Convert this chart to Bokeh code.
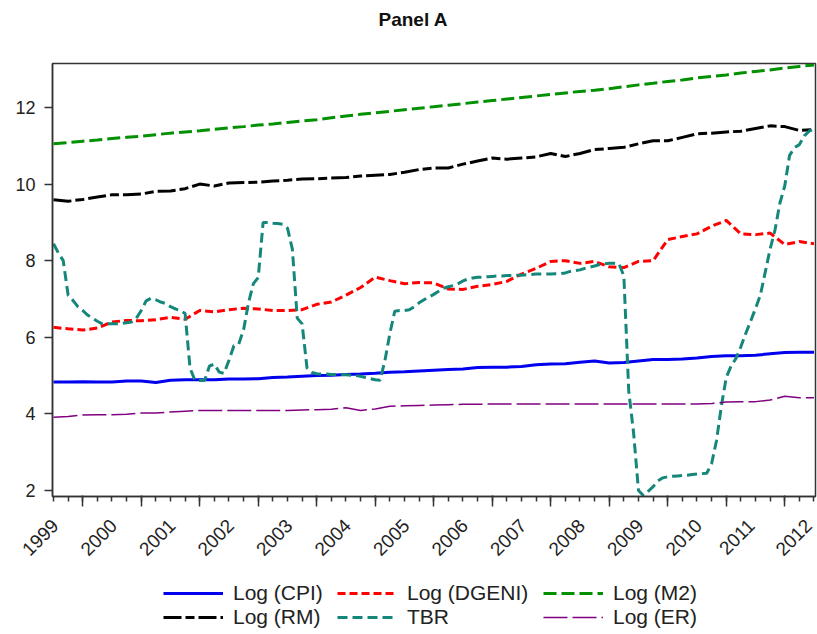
import numpy as np
from bokeh.plotting import figure
from bokeh.layouts import column
from bokeh.models import Range1d, FixedTicker, LinearAxis, Legend, LegendItem, Label
from bokeh.embed import file_html
from bokeh.resources import INLINE

# ---------------- data ----------------
title_text = "Panel A"
years = list(range(1999, 2013))
year_labels = [str(y) for y in years]

# quarterly observation dates (1999Q1 .. 2012Q1) and monthly dates (1999M1 .. 2012M1)
quarter_dates = [1999 + q / 4 for q in range(53)]
month_dates = [1999 + m / 12 for m in range(157)]

log_cpi = [4.83, 4.83, 4.84, 4.83, 4.83, 4.86, 4.86, 4.82, 4.88, 4.89, 4.89, 4.89,
           4.91, 4.91, 4.92, 4.95, 4.96, 4.98, 5.00, 5.01, 5.03, 5.04, 5.06, 5.09,
           5.10, 5.12, 5.14, 5.16, 5.17, 5.21, 5.22, 5.22, 5.24, 5.28, 5.30, 5.31,
           5.35, 5.38, 5.33, 5.34, 5.38, 5.42, 5.42, 5.43, 5.46, 5.50, 5.52, 5.52,
           5.53, 5.57, 5.60, 5.61, 5.61]

log_dgeni = [6.26, 6.22, 6.19, 6.24, 6.40, 6.44, 6.43, 6.46, 6.52, 6.47, 6.70, 6.66,
             6.72, 6.76, 6.74, 6.70, 6.70, 6.72, 6.86, 6.92, 7.10, 7.30, 7.57, 7.48,
             7.40, 7.43, 7.42, 7.26, 7.25, 7.33, 7.38, 7.46, 7.65, 7.80, 7.98, 8.00,
             7.93, 7.98, 7.84, 7.82, 7.98, 8.00, 8.55, 8.63, 8.70, 8.90, 9.05, 8.70,
             8.68, 8.72, 8.42, 8.50, 8.44]

log_m2 = [11.05, 11.08, 11.12, 11.15, 11.19, 11.22, 11.25, 11.29, 11.33, 11.36, 11.39, 11.43,
          11.47, 11.50, 11.54, 11.57, 11.61, 11.65, 11.68, 11.73, 11.78, 11.82, 11.86, 11.90,
          11.94, 11.98, 12.02, 12.06, 12.10, 12.14, 12.18, 12.22, 12.26, 12.30, 12.34, 12.38,
          12.42, 12.45, 12.49, 12.54, 12.59, 12.63, 12.68, 12.72, 12.77, 12.81, 12.85, 12.90,
          12.94, 12.98, 13.03, 13.07, 13.11]

log_rm = [9.59, 9.55, 9.60, 9.66, 9.72, 9.72, 9.74, 9.81, 9.82, 9.88, 10.00, 9.95,
          10.03, 10.04, 10.05, 10.08, 10.10, 10.13, 10.14, 10.16, 10.17, 10.21, 10.23, 10.25,
          10.31, 10.38, 10.42, 10.42, 10.52, 10.60, 10.68, 10.65, 10.68, 10.71, 10.80, 10.72,
          10.80, 10.90, 10.93, 10.96, 11.05, 11.13, 11.13, 11.22, 11.31, 11.33, 11.36, 11.38,
          11.45, 11.52, 11.50, 11.40, 11.42]

log_er = [3.91, 3.93, 3.97, 3.98, 3.98, 3.99, 4.02, 4.02, 4.05, 4.07, 4.09, 4.09,
          4.09, 4.09, 4.09, 4.09, 4.09, 4.10, 4.11, 4.12, 4.16, 4.09, 4.13, 4.20,
          4.21, 4.22, 4.23, 4.24, 4.25, 4.25, 4.26, 4.26, 4.26, 4.26, 4.26, 4.26,
          4.26, 4.26, 4.26, 4.26, 4.26, 4.26, 4.26, 4.26, 4.26, 4.27, 4.31, 4.32,
          4.32, 4.36, 4.46, 4.42, 4.42]

tbr = [8.44, 8.20, 8.00, 7.10, 6.96, 6.80, 6.70, 6.58, 6.50, 6.42, 6.35, 6.35,   # 1999
       6.35, 6.35, 6.36, 6.38, 6.40, 6.50, 6.70, 6.95, 7.02, 6.98, 6.92, 6.88,   # 2000
       6.80, 6.74, 6.70, 6.62, 5.20, 4.88, 4.87, 4.87, 5.25, 5.30, 5.09, 5.06,   # 2001
       5.40, 5.78, 5.82, 6.20, 6.90, 7.40, 7.56, 9.00, 9.00, 8.98, 8.97, 8.95,   # 2002
       8.85, 8.30, 6.50, 6.35, 5.20, 5.08, 5.05, 5.04, 5.04, 5.03, 5.03, 5.03,   # 2003
       5.02, 5.01, 5.00, 4.98, 4.95, 4.92, 4.89, 4.88, 5.40, 6.10, 6.68, 6.70,   # 2004
       6.70, 6.72, 6.80, 6.90, 6.98, 7.05, 7.12, 7.20, 7.28, 7.32, 7.35, 7.40,   # 2005
       7.47, 7.52, 7.55, 7.57, 7.57, 7.58, 7.59, 7.60, 7.60, 7.61, 7.61, 7.62,   # 2006
       7.62, 7.63, 7.64, 7.65, 7.65, 7.65, 7.65, 7.66, 7.66, 7.68, 7.72, 7.74,   # 2007
       7.76, 7.80, 7.83, 7.86, 7.90, 7.92, 7.93, 7.93, 7.92, 7.60, 4.60, 3.50,   # 2008
       2.00, 1.87, 1.98, 2.10, 2.25, 2.33, 2.36, 2.37, 2.38, 2.39, 2.40, 2.42,   # 2009
       2.43, 2.44, 2.45, 2.70, 3.30, 4.20, 4.95, 5.25, 5.45, 5.75, 6.10, 6.42,   # 2010
       6.75, 7.10, 7.70, 8.30, 8.80, 9.50, 9.95, 10.75, 10.95, 11.03, 11.26, 11.38,  # 2011
       11.44]                                                                     # 2012

y_ticks = [2, 4, 6, 8, 10, 12]

series_styles = {
    "Log (CPI)":   dict(line_color="#0000ee", line_width=3),
    "Log (DGENI)": dict(line_color="#ff0000", line_width=3, line_dash="8 4"),
    "Log (M2)":    dict(line_color="#009000", line_width=3, line_dash="13 5"),
    "Log (RM)":    dict(line_color="#000000", line_width=3, line_dash="18 4 9 4"),
    "TBR":         dict(line_color="#14877a", line_width=3, line_dash="10 5"),
    "Log (ER)":    dict(line_color="#800080", line_width=1.5, line_dash="24 5"),
}
series_data = {
    "Log (CPI)": (quarter_dates, log_cpi),
    "Log (DGENI)": (quarter_dates, log_dgeni),
    "Log (M2)": (quarter_dates, log_m2),
    "Log (RM)": (quarter_dates, log_rm),
    "TBR": (month_dates, tbr),
    "Log (ER)": (quarter_dates, log_er),
}

FONT = "Liberation Sans"
AX = "#333333"


def strip(height):
    f = figure(width=817, height=height, output_backend="svg", toolbar_location=None,
               x_range=Range1d(0, 1), y_range=Range1d(0, 1),
               min_border=0, x_axis_type=None, y_axis_type=None)
    f.xgrid.visible = False
    f.ygrid.visible = False
    f.outline_line_color = None
    f.background_fill_color = "white"
    f.border_fill_color = "white"
    return f


# ---------------- title strip ----------------
tf = strip(40)
tf.add_layout(Label(x=326, y=21, x_units="screen", y_units="screen", text=title_text,
                    text_font=FONT, text_font_size="19px", text_font_style="bold",
                    text_color="#111111", text_align="left", text_baseline="alphabetic"))

# ---------------- main figure ----------------
p = figure(width=817, height=530, output_backend="svg", toolbar_location=None, title=None,
           x_range=Range1d(1998.983, 2012.026), y_range=Range1d(1.843, 13.148),
           min_border_left=52, min_border_right=2, min_border_top=23, min_border_bottom=74,
           x_axis_type=None)

p.xgrid.visible = False
p.ygrid.visible = False
p.outline_line_color = AX
p.outline_line_width = 1.5
p.background_fill_color = "white"
p.border_fill_color = "white"

# y axis
p.yaxis.ticker = FixedTicker(ticks=y_ticks)
p.yaxis.major_label_text_font = FONT
p.yaxis.major_label_text_font_size = "18px"
p.yaxis.major_label_text_color = "#222222"
p.yaxis.major_tick_out = 8
p.yaxis.major_tick_in = 0
p.yaxis.minor_tick_line_color = None
p.yaxis.major_label_standoff = 9
p.yaxis.axis_line_color = AX
p.yaxis.axis_line_width = 1.5
p.yaxis.major_tick_line_width = 1.5
p.yaxis.major_tick_line_color = AX

# x axis 1: quarterly short ticks, no labels
tick_axis = LinearAxis(ticker=FixedTicker(ticks=[], minor_ticks=quarter_dates),
                       major_label_standoff=0, major_tick_out=0, major_tick_in=0,
                       minor_tick_out=5, minor_tick_in=0,
                       axis_line_color=AX, axis_line_width=1.5,
                       minor_tick_line_color=AX, minor_tick_line_width=1.5)
p.add_layout(tick_axis, "below")

# x axis 2: year labels, plus the longer mid-year ticks reaching up to the frame
major_x = [y + 0.5 for y in years[:-1]]
label_pos = [round(y + 0.03, 3) for y in years]
label_pos[-2] = round(label_pos[-2] - 0.1, 3)
label_pos[-1] = round(label_pos[-1] - 0.12, 3)
label_axis = LinearAxis(ticker=FixedTicker(ticks=label_pos, minor_ticks=major_x),
                        major_label_overrides={pos: lab for pos, lab in zip(label_pos, year_labels)},
                        axis_line_color=None, major_tick_line_color=None,
                        major_tick_out=0, major_tick_in=0,
                        minor_tick_line_color=AX, minor_tick_line_width=1.5,
                        minor_tick_in=6, minor_tick_out=5,
                        major_label_orientation=np.pi / 4, major_label_standoff=16,
                        major_label_text_font=FONT, major_label_text_font_size="19px",
                        major_label_text_color="#222222")
p.add_layout(label_axis, "below")

# ---------------- series ----------------
for name in series_styles:
    xs, ys = series_data[name]
    p.line(xs, ys, **series_styles[name])

# ---------------- legend strip ----------------
# the proxy lines carry the same data but lie outside this strip's 0..1 ranges
lf = strip(64)
legend_cols = [["Log (CPI)", "Log (RM)"], ["Log (DGENI)", "TBR"], ["Log (M2)", "Log (ER)"]]
col_x = [111, 285, 491]
for names, cx in zip(legend_cols, col_x):
    items = []
    for nm in names:
        xs, ys = series_data[nm]
        proxy = lf.line(xs, ys, **series_styles[nm])
        items.append(LegendItem(label=nm, renderers=[proxy]))
    lg = Legend(items=items, orientation="vertical", location=(cx, 5),
                label_text_font=FONT, label_text_font_size="21px", label_text_color="#222222",
                glyph_width=60, glyph_height=20, label_height=20, label_standoff=10, spacing=0,
                padding=0, margin=0, border_line_color=None, background_fill_alpha=0)
    lf.add_layout(lg, "center")

layout = column(tf, p, lf, spacing=0)
open("out.html", "w").write(file_html(layout, INLINE))
